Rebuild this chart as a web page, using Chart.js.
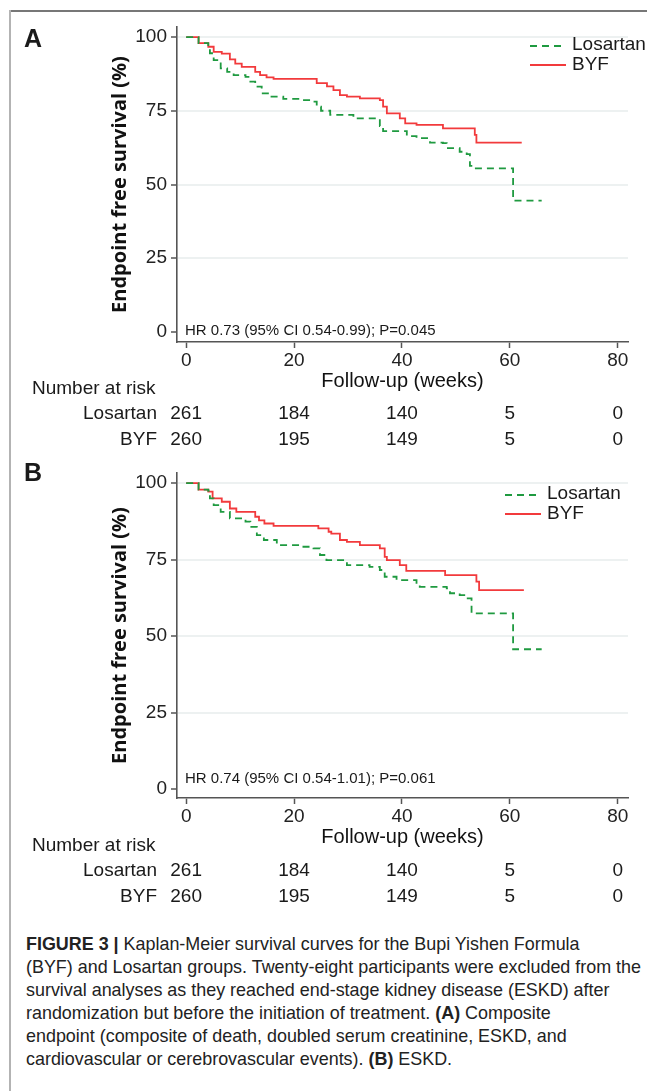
<!DOCTYPE html>
<html>
<head>
<meta charset="utf-8">
<script src="https://cdn.jsdelivr.net/npm/chart.js@4.4.0/dist/chart.umd.min.js"></script>
<style>
body { margin: 0; background: #fff; }
#page { position: relative; width: 647px; height: 1091px; overflow: hidden; font-family: "Liberation Sans", Arimo, sans-serif; color: #1a1a1a; }
.frameTop { position: absolute; left: 9px; top: 10px; width: 640px; border-top: 2px solid #777; }
.frameLeft { position: absolute; left: 9px; top: 10px; height: 1085px; border-left: 2px solid #b3b3b3; }
.panel { position: absolute; left: 0; width: 647px; }
.txt { position: absolute; white-space: nowrap; line-height: 1; transform: translateY(-50%); }
.letter { font-weight: bold; font-size: 25px; left: 24px; }
.hr { font-size: 15px; left: 185px; }
.leg { font-size: 19px; }
.risk { font-size: 19px; }
.num { font-size: 19px; transform: translate(-50%, -50%); }
.caption { position: absolute; left: 26px; top: 932px; font-size: 18.5px; line-height: 23px; color: #222; white-space: nowrap; transform-origin: 0 0; }
.caption span { display: block; width: max-content; }
</style>
</head>
<body>
<div id="page">
  <div class="frameTop"></div>
  <div class="frameLeft"></div>
  <canvas id="chartA" class="panel" style="top:0px" width="647" height="450"></canvas>
  <canvas id="chartB" class="panel" style="top:450px" width="647" height="460"></canvas>
  <div id="overlay"></div>
  <div class="caption" id="caption">
    <span><b>FIGURE 3 |</b> Kaplan-Meier survival curves for the Bupi Yishen Formula</span>
    <span id="capLine2">(BYF) and Losartan groups. Twenty-eight participants were excluded from the</span>
    <span>survival analyses as they reached end-stage kidney disease (ESKD) after</span>
    <span>randomization but before the initiation of treatment. <b>(A)</b> Composite</span>
    <span>endpoint (composite of death, doubled serum creatinine, ESKD, and</span>
    <span>cardiovascular or cerebrovascular events). <b>(B)</b> ESKD.</span>
  </div>
</div>
<script>
const weekTicks = [0, 20, 40, 60, 80];
const survivalTicks = [0, 25, 50, 75, 100];
const groupNames = ['Losartan', 'BYF'];

// number at risk (same for both panels)
const riskLosartan = [261, 184, 140, 5, 0];
const riskBYF = [260, 195, 149, 5, 0];

// panel A: composite endpoint
const losartanA_weeks = [0, 2.3, 4.1, 4.4, 5.1, 6.4, 7.6, 8.8, 11.0, 11.9, 12.8, 14.0, 15.6, 18.0, 21.1, 23.0, 24.2, 25.0, 26.7, 31.0, 35.9, 36.5, 40.9, 42.7, 45.2, 47.6, 48.3, 50.7, 52.0, 52.6, 53.2, 60.6, 65.9];
const losartanA_surv  = [100, 97.9, 96.7, 94.5, 92.2, 89.4, 88.2, 87.1, 86.5, 84.9, 83.2, 80.9, 79.8, 79.0, 78.6, 78.1, 76.4, 75.0, 73.6, 72.4, 69.8, 68.1, 66.4, 65.7, 64.2, 64.0, 62.3, 61.1, 60.3, 56.3, 55.5, 44.5, 44.5];
const byfA_weeks = [0, 2.3, 4.1, 5.1, 6.6, 8.1, 9.1, 10.3, 12.8, 13.7, 14.9, 16.2, 24.2, 26.1, 27.3, 28.5, 29.8, 32.2, 35.9, 36.5, 37.2, 39.6, 40.6, 42.7, 47.6, 53.5, 53.8, 62.2];
const byfA_surv  = [100, 97.9, 96.7, 95.0, 94.4, 92.4, 91.0, 89.9, 88.2, 87.1, 86.3, 85.8, 84.4, 83.3, 82.0, 80.3, 79.8, 79.2, 78.6, 76.4, 74.1, 72.4, 70.7, 70.2, 69.0, 66.8, 64.2, 64.2];

// panel B: ESKD
const losartanB_weeks = [0, 2.3, 4.1, 4.4, 5.1, 6.4, 8.1, 11.0, 11.9, 13.1, 14.4, 16.8, 21.1, 23.6, 24.8, 26.0, 29.8, 34.0, 35.9, 36.8, 39.0, 42.7, 43.3, 48.3, 48.9, 50.7, 52.0, 52.9, 60.6, 65.9];
const losartanB_surv  = [100, 97.9, 97.5, 95.0, 92.8, 90.6, 88.5, 87.4, 85.7, 83.0, 81.4, 79.7, 79.2, 78.7, 76.5, 74.8, 73.2, 72.6, 71.6, 69.4, 68.3, 67.4, 66.1, 65.6, 64.0, 63.4, 62.3, 57.4, 45.7, 45.7];
const byfB_weeks = [0, 2.3, 4.1, 4.9, 6.6, 8.1, 9.3, 12.8, 13.5, 14.5, 16.2, 24.5, 26.4, 26.9, 28.5, 29.8, 32.2, 35.9, 36.8, 37.2, 39.6, 40.8, 48.0, 53.8, 54.3, 62.6];
const byfB_surv  = [100, 97.9, 97.2, 95.0, 93.9, 91.7, 90.6, 89.0, 87.8, 86.8, 86.0, 85.2, 84.1, 83.5, 81.4, 80.8, 79.7, 78.7, 75.9, 74.8, 73.2, 71.3, 69.9, 67.8, 65.0, 65.0];

const hrA = 'HR 0.73 (95% CI 0.54-0.99); P=0.045';
const hrB = 'HR 0.74 (95% CI 0.54-1.01); P=0.061';

const green = '#1f9a40';
const red = '#f23a3c';

Chart.defaults.font.family = '"Liberation Sans", Arimo, sans-serif';

function pts(t, s) {
  return t.map((x, i) => ({ x: x, y: s[i] }));
}

function kmChart(id, losT, losS, byfT, byfS, pad, yMin, yMax) {
  return new Chart(document.getElementById(id), {
    type: 'line',
    data: {
      datasets: [
        { label: groupNames[0], data: pts(losT, losS), borderColor: green, borderWidth: 1.8, borderDash: [7, 5], stepped: 'before', pointRadius: 0, fill: false },
        { label: groupNames[1], data: pts(byfT, byfS), borderColor: red, borderWidth: 1.8, stepped: 'before', pointRadius: 0, fill: false }
      ]
    },
    options: {
      responsive: false,
      animation: false,
      devicePixelRatio: 1,
      layout: { padding: pad },
      plugins: { legend: { display: false }, tooltip: { enabled: false } },
      scales: {
        x: {
          type: 'linear', min: -1.7, max: 81.9,
          afterBuildTicks: s => { s.ticks = weekTicks.map(v => ({ value: v })); },
          afterFit: s => { s.height = 51; },
          grid: { drawOnChartArea: false, tickLength: 6, tickColor: '#555', tickWidth: 1.5 },
          border: { color: '#555', width: 1.6 },
          ticks: { font: { size: 19 }, color: '#222', padding: 1, maxRotation: 0 },
          title: { display: true, text: 'Follow-up (weeks)', font: { size: 20 }, color: '#111', padding: 0 }
        },
        y: {
          type: 'linear', min: yMin, max: yMax,
          afterBuildTicks: s => { s.ticks = survivalTicks.map(v => ({ value: v })); },
          afterFit: s => { s.width = 77; },
          grid: { color: c => c.tick && c.tick.value === 0 ? 'rgba(0,0,0,0)' : '#edf1f1', lineWidth: 2, tickLength: 6, tickColor: '#555', tickWidth: 1.5 },
          border: { color: '#555', width: 1.6 },
          ticks: { font: { size: 19 }, color: '#222', padding: 4 },
          title: { display: true, text: 'Endpoint free survival (%)', font: { family: '"Open Sans", sans-serif', weight: 'bold', size: 20 }, color: '#111', padding: { top: 8, bottom: 0 } }
        }
      }
    }
  });
}

const chartA = kmChart('chartA', losartanA_weeks, losartanA_surv, byfA_weeks, byfA_surv, { left: 100, right: 19, top: 27, bottom: 57 }, -3.4, 103.4);
const chartB = kmChart('chartB', losartanB_weeks, losartanB_surv, byfB_weeks, byfB_surv, { left: 100, right: 19, top: 23, bottom: 61 }, -2.9, 103.3);

const overlay = document.getElementById('overlay');
function addText(cls, text, left, top, extra) {
  const d = document.createElement('div');
  d.className = 'txt ' + cls;
  d.textContent = text;
  d.style.left = left + 'px';
  d.style.top = top + 'px';
  if (extra) Object.assign(d.style, extra);
  overlay.appendChild(d);
  return d;
}
function addLegendLine(left, top, color, dashed) {
  const ns = 'http://www.w3.org/2000/svg';
  const svg = document.createElementNS(ns, 'svg');
  svg.setAttribute('width', 36);
  svg.setAttribute('height', 4);
  svg.style.position = 'absolute';
  svg.style.left = left + 'px';
  svg.style.top = (top - 2) + 'px';
  const l = document.createElementNS(ns, 'line');
  l.setAttribute('x1', 0); l.setAttribute('x2', 36);
  l.setAttribute('y1', 2); l.setAttribute('y2', 2);
  l.setAttribute('stroke', color);
  l.setAttribute('stroke-width', 1.8);
  if (dashed) l.setAttribute('stroke-dasharray', '7,5');
  svg.appendChild(l);
  overlay.appendChild(svg);
}

function decorate(chart, offsetY, letter, hr, hrY, legX, legY, riskY) {
  addText('letter', letter, 24, offsetY + (letter === 'A' ? 38 : 22));
  addText('hr', hr, 185, hrY);
  addLegendLine(legX, legY + 3, green, true);
  addLegendLine(legX, legY + 22, red, false);
  addText('leg', groupNames[0], legX + 42, legY);
  addText('leg', groupNames[1], legX + 42, legY + 20);
  addText('risk', 'Number at risk', 32, riskY);
  addText('risk', groupNames[0], 0, riskY + 25, { left: 'auto', right: (647 - 157) + 'px' });
  addText('risk', groupNames[1], 0, riskY + 51, { left: 'auto', right: (647 - 157) + 'px' });
  const xs = chart.scales.x;
  weekTicks.forEach((w, i) => {
    const px = xs.getPixelForValue(w);
    addText('num', String(riskLosartan[i]), px, riskY + 25);
    addText('num', String(riskBYF[i]), px, riskY + 51);
  });
}

decorate(chartA, 0, 'A', hrA, 329, 530, 43, 387);
decorate(chartB, 450, 'B', hrB, 777, 505, 492, 844);

// squeeze caption to the narrow width of the original typesetting
const cap = document.getElementById('caption');
const w2 = document.getElementById('capLine2').getBoundingClientRect().width;
cap.style.transform = 'scaleX(' + (615 / w2) + ')';
</script>
</body>
</html>
